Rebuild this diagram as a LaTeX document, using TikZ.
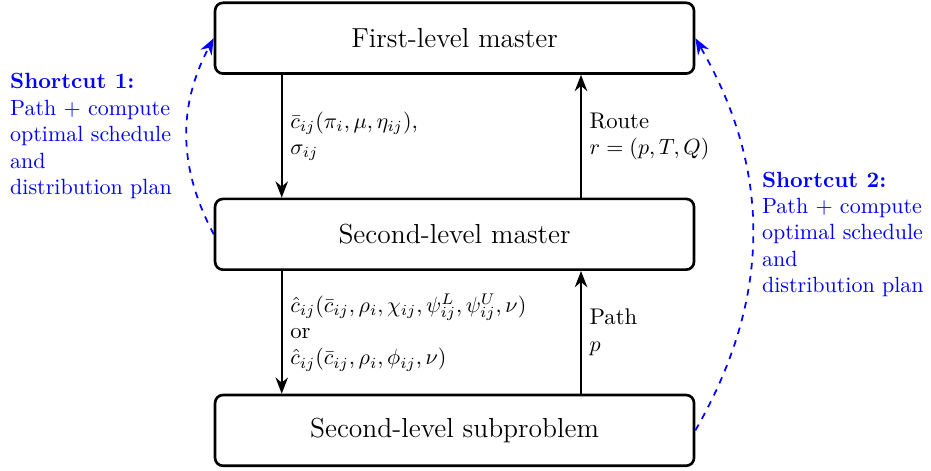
\documentclass[tikz,border=0pt]{standalone}
\usepackage{amsmath}
\usepackage{xcolor}
\usepackage{tikz}
\usetikzlibrary{positioning,arrows.meta}
\definecolor{scink}{HTML}{000000}
\definecolor{scblue}{HTML}{0000FF}

\begin{document}
\begin{tikzpicture}[
  node distance=1.96cm,
  box/.style={draw=scink, very thick, rounded corners=3.6pt, align=center,
    minimum width=7.65cm, minimum height=1.13cm, font=\fontsize{12.5}{15}\selectfont, fill=white},
  flow/.style={-{Stealth[length=2.6mm, width=2mm]}, draw=scink, thick},
  msg/.style={right, align=left, inner sep=3.5pt, font=\fontsize{10.3}{12}\selectfont},
  shortcut/.style={-{Stealth[length=2.6mm, width=2mm]}, draw=scblue, thick, dashed},
  note/.style={align=left, text=scblue, inner sep=3pt},
  ]
  \useasboundingbox (0,0) rectangle (14.87,7.51);

  \node[box] (first) at (7.26,6.90) {First-level master};
  \node[box, below=of first] (second) {Second-level master};
  \node[box, below=of second] (sub) {Second-level subproblem};

  % Duals passed down, columns passed up.
  \draw[flow] ([xshift=-2.76cm]first.south) -- ([xshift=-2.76cm]second.north)
    node[msg, midway] {$\bar{c}_{ij}(\pi_i,\mu,\eta_{ij})$,\\$\sigma_{ij}$};
  \draw[flow] ([xshift=2.02cm]second.north) -- ([xshift=2.02cm]first.south)
    node[msg, midway] {Route\\$r=(p,T,Q)$};
  \draw[flow] ([xshift=-2.76cm]second.south) -- ([xshift=-2.76cm]sub.north)
    node[msg, midway] {$\hat{c}_{ij}(\bar{c}_{ij},\rho_i,\chi_{ij},\psi^L_{ij},\psi^U_{ij},\nu)$\\or\\$\hat{c}_{ij}(\bar{c}_{ij},\rho_i,\phi_{ij},\nu)$};
  \draw[flow] ([xshift=2.02cm]sub.north) -- ([xshift=2.02cm]second.south)
    node[msg, midway] {Path\\$p$};

  % Shortcuts back to the first level.
  \draw[shortcut] (second.west) to[bend left=28]
    node[note, midway, left=1.2mm] {\textbf{Shortcut 1:}\\Path + compute\\optimal schedule\\and\\distribution plan} (first.west);
  \draw[shortcut] (sub.east) to[bend right=30]
    node[note, midway, right=0.3mm] {\textbf{Shortcut 2:}\\Path + compute\\optimal schedule\\and\\distribution plan} (first.east);
\end{tikzpicture}
\end{document}
